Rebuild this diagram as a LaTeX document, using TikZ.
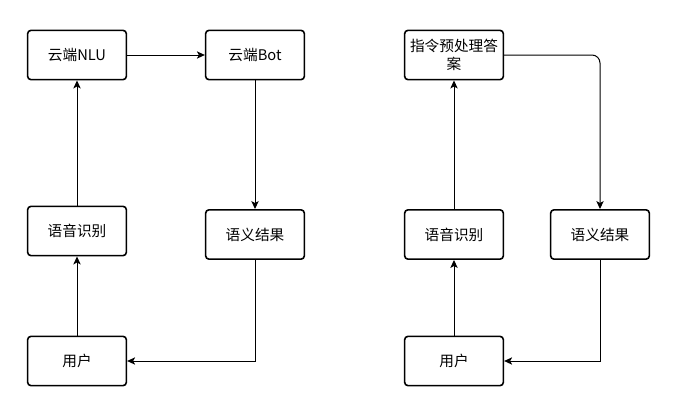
\documentclass[tikz,border=0pt]{standalone}
\usepackage{fontspec}
\newfontfamily\cjk{Noto Sans CJK SC}
\usetikzlibrary{arrows.meta}
\begin{document}
\begin{tikzpicture}[x=0.75pt,y=-0.75pt,
  box/.style={draw,line width=1.2pt,rounded corners=2.5pt,minimum width=74pt,
    minimum height=37pt,inner sep=1pt,align=center,
    font=\cjk\fontsize{11}{13.5}\selectfont},
  link/.style={line width=0.75pt,-{Stealth[length=6pt,width=5.5pt,inset=1.5pt]}}]
\useasboundingbox (0,0) rectangle (679,407);
\node[box] (nlu) at (77,55) {云端NLU};
\node[box] (bot) at (255,55) {云端Bot};
\node[box] (asrL) at (77,231) {语音识别};
\node[box] (semL) at (255,234.5) {语义结果};
\node[box] (userL) at (77,361) {用户};
\draw[link] (userL) -- (asrL);
\draw[link] (asrL) -- (nlu);
\draw[link] (nlu) -- (bot);
\draw[link] (bot) -- (semL);
\draw[link] (semL) |- (userL);
\node[box] (pre) at (454,55) {指令预处理答\\案};
\node[box] (asrR) at (454,234.5) {语音识别};
\node[box] (semR) at (600,234.5) {语义结果};
\node[box] (userR) at (454,361) {用户};
\draw[link] (userR) -- (asrR);
\draw[link] (asrR) -- (pre);
\draw[link,rounded corners=6pt] (pre) -| (semR);
\draw[link] (semR) |- (userR);
\end{tikzpicture}
\end{document}
